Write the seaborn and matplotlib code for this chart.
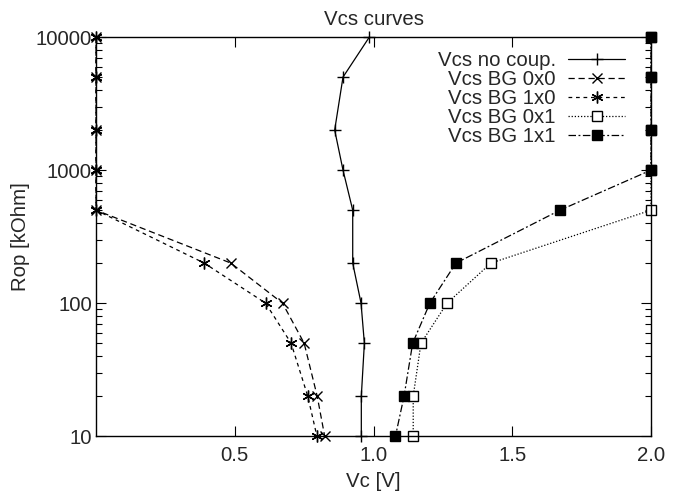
import pandas as pd
import matplotlib
matplotlib.use('Agg')
import matplotlib.pyplot as plt
import seaborn as sns
from matplotlib.ticker import LogLocator, FixedLocator, NullFormatter

# Rop values (kOhm) and Vc readings (V) for each curve
rop = [10000, 5000, 2000, 1000, 500, 200, 100, 50, 20, 10]
vc_no_coup = [0.985, 0.89, 0.86, 0.89, 0.925, 0.925, 0.955, 0.967, 0.956, 0.956]
vc_bg_0x0 = [0.0, 0.0, 0.0, 0.0, 0.0, 0.486, 0.672, 0.75, 0.797, 0.824]
vc_bg_1x0 = [0.0, 0.0, 0.0, 0.0, 0.0, 0.39, 0.611, 0.703, 0.763, 0.796]
vc_bg_0x1 = [2.0, 2.0, 2.0, 2.0, 2.0, 1.423, 1.265, 1.171, 1.143, 1.143]
vc_bg_1x1 = [2.0, 2.0, 2.0, 2.0, 1.672, 1.297, 1.203, 1.141, 1.11, 1.079]

labels = ['Vcs no coup.', 'Vcs BG 0x0', 'Vcs BG 1x0', 'Vcs BG 0x1', 'Vcs BG 1x1']
series = [vc_no_coup, vc_bg_0x0, vc_bg_1x0, vc_bg_0x1, vc_bg_1x1]

sns.set_style('ticks')
plt.rcParams['font.family'] = ['Liberation Sans', 'DejaVu Sans']
plt.rcParams['font.size'] = 14.7

fig = plt.figure(figsize=(6.81, 4.94), dpi=100)
ax = fig.add_axes([0.141, 0.117, 0.815, 0.808])

styles = [
    dict(linestyle='-', marker='+', ms=9, mfc='black'),
    dict(linestyle=(0, (5, 3)), marker='x', ms=7.5, mfc='black'),
    dict(linestyle=(0, (3, 3)), marker=(6, 2, 0), ms=8.5, mfc='black'),
    dict(linestyle=(0, (1, 1.5)), marker='s', ms=7.5, mfc='white'),
    dict(linestyle=(0, (6, 2, 1.5, 2)), marker='s', ms=7.5, mfc='black'),
]

for lab, vals, st in zip(labels, series, styles):
    df = pd.DataFrame({'Vc': vals, 'Rop': rop})
    sns.lineplot(data=df, x='Vc', y='Rop', sort=False, estimator=None, ax=ax,
                 color='black', linewidth=0.9, markeredgewidth=1.0,
                 markeredgecolor='black', label=lab, clip_on=False, **st)

ax.set_yscale('log')
ax.set_xlim(0, 2.0)
ax.set_ylim(10, 10000)
ax.xaxis.set_major_locator(FixedLocator([0.5, 1.0, 1.5, 2.0]))
ax.set_xticklabels(['0.5', '1.0', '1.5', '2.0'])
ax.yaxis.set_major_locator(FixedLocator([10, 100, 1000, 10000]))
ax.set_yticklabels(['10', '100', '1000', '10000'])
ax.yaxis.set_minor_locator(LogLocator(base=10, subs=range(2, 10)))
ax.yaxis.set_minor_formatter(NullFormatter())
ax.tick_params(which='both', direction='in', top=True, right=True, color='black')
ax.tick_params(which='major', length=7, width=0.8)
ax.tick_params(axis='x', which='major', pad=7)
ax.tick_params(axis='y', which='major', pad=3)
ax.tick_params(which='minor', length=4, width=0.8)
for sp in ax.spines.values():
    sp.set_linewidth(1.0)
    sp.set_color('black')

ax.set_xlabel('Vc [V]', labelpad=5)
ax.set_ylabel('Rop [kOhm]', labelpad=4)
ax.set_title('Vcs curves', fontsize=14.7, pad=9)

ax.legend(loc='upper right', frameon=False, markerfirst=False, handlelength=2.8,
          labelspacing=0.0, borderaxespad=0.0, handletextpad=0.6,
          bbox_to_anchor=(0.968, 0.985))

fig.savefig('out.png', dpi=100)
